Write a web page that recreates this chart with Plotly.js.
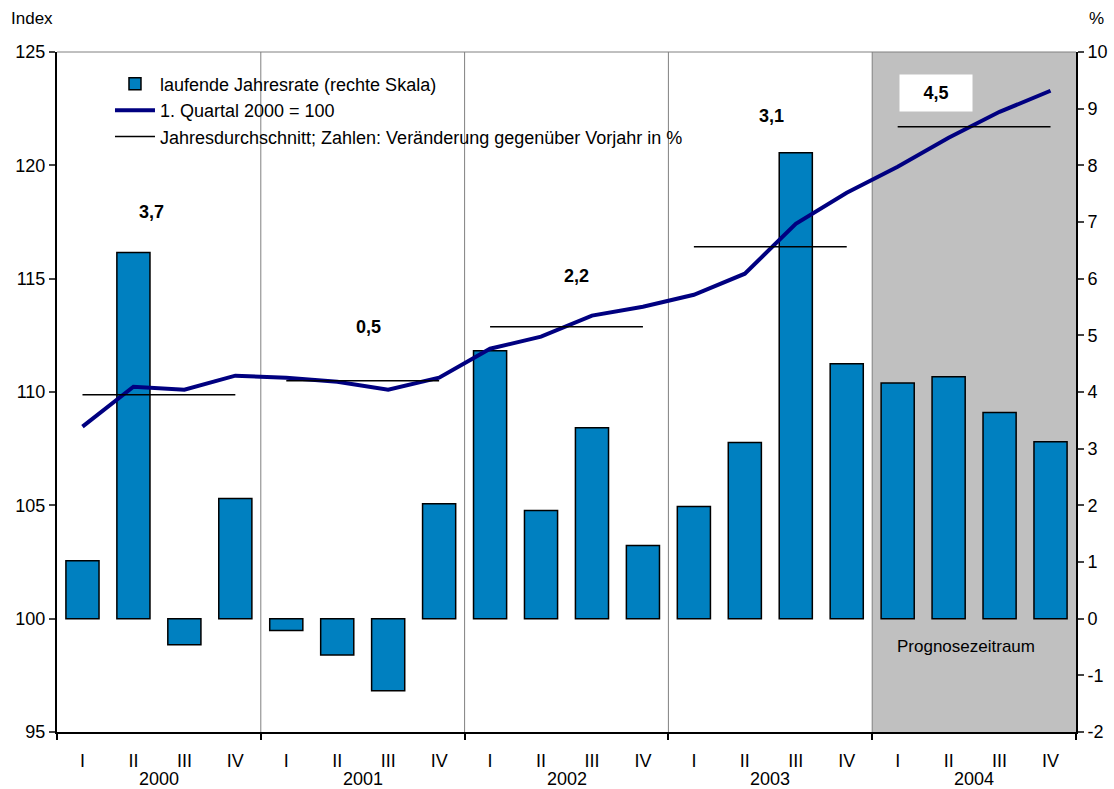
<!DOCTYPE html>
<html>
<head>
<meta charset="utf-8">
<script src="https://cdn.plot.ly/plotly-3.0.1.min.js"></script>
<style>html,body{margin:0;padding:0;background:#fff;}#chart{width:1114px;height:789px;}</style>
</head>
<body>
<div id="chart"></div>
<script>
const quarters = ['I', 'II', 'III', 'IV'];
const years = ['2000', '2001', '2002', '2003', '2004'];
const rate = [1.02, 6.46, -0.46, 2.12, -0.21, -0.64, -1.27, 2.03, 4.73, 1.91, 3.37, 1.29, 1.98, 3.11, 8.22, 4.50, 4.16, 4.27, 3.64, 3.12];
const indexValues = [108.47, 110.23, 110.10, 110.72, 110.63, 110.45, 110.10, 110.63, 111.91, 112.44, 113.37, 113.76, 114.29, 115.22, 117.42, 118.79, 119.94, 121.22, 122.36, 123.29];
const annualAvg = [109.88, 110.50, 112.88, 116.41, 121.70];
const annualChange = ['3,7', '0,5', '2,2', '3,1', '4,5'];
const forecastYear = '2004';
const rightTicks = [-2, -1, 0, 1, 2, 3, 4, 5, 6, 7, 8, 9, 10];

// layout helpers (positions of the labels, not data)
const labelOffset = [-0.155, 0.12, 0.19, 0.03, -0.75];
const labelY = [117.95, 112.88, 115.13, 122.19, 123.2];

const n = rate.length;
const xs = rate.map((_, i) => i);
const tickText = xs.map(i => quarters[i % 4]);

const font = 'Liberation Sans, Arial, sans-serif';
const fs = 17;
const fsL = 18;

const avgX = [], avgY = [];
years.forEach((y, k) => {
  avgX.push(4 * k, 4 * k + 3, null);
  avgY.push(annualAvg[k], annualAvg[k], null);
});

const traces = [
  {
    type: 'bar', x: xs, y: rate, yaxis: 'y', xaxis: 'x',
    name: 'laufende Jahresrate (rechte Skala)',
    marker: {color: '#0080c0', line: {color: '#000000', width: 1.5}},
    legendgroup: 'a', hoverinfo: 'y'
  },
  {
    type: 'scatter', mode: 'lines', x: xs, y: indexValues, yaxis: 'y2', xaxis: 'x',
    name: '1. Quartal 2000 = 100',
    line: {color: '#000080', width: 4},
    legendgroup: 'b'
  },
  {
    type: 'scatter', mode: 'lines', x: avgX, y: avgY, yaxis: 'y2', xaxis: 'x',
    name: 'Jahresdurchschnitt; Zahlen: Veränderung gegenüber Vorjahr in %',
    line: {color: '#000000', width: 1.5}, connectgaps: false,
    legendgroup: 'c'
  }
];

const fk = years.indexOf(forecastYear);
const shapes = [
  {type: 'rect', xref: 'x', yref: 'paper', x0: 4 * fk - 0.5, x1: n - 0.5, y0: 0, y1: 1,
   fillcolor: '#c0c0c0', line: {width: 0}, layer: 'below'},
  {type: 'line', xref: 'paper', yref: 'paper', x0: 0, x1: 1, y0: 1, y1: 1,
   line: {color: '#808080', width: 1}, layer: 'below'}
];
for (let k = 1; k < years.length; k++) {
  shapes.push({type: 'line', xref: 'x', yref: 'paper', x0: 4 * k - 0.5, x1: 4 * k - 0.5, y0: 0, y1: 1,
    line: {color: '#808080', width: 1}, layer: 'below'});
}

const annotations = [];
years.forEach((y, k) => {
  annotations.push({xref: 'x', yref: 'paper', x: 4 * k + 1.5, y: 0, yshift: -47, text: y,
    showarrow: false, font: {family: font, size: fsL, color: '#000'}, yanchor: 'middle'});
  const isBox = y === forecastYear;
  annotations.push({xref: 'x', yref: 'y2', x: 4 * k + 1.5 + labelOffset[k], y: labelY[k],
    text: '<b>' + annualChange[k] + '</b>', showarrow: false,
    font: {family: font, size: fsL, color: '#000'},
    bgcolor: isBox ? '#ffffff' : 'rgba(0,0,0,0)',
    borderpad: isBox ? 8 : 0, width: isBox ? 56 : null});
});
annotations.push({xref: 'x', yref: 'y', x: 4 * fk + 1.34, y: -0.49, text: 'Prognosezeitraum',
  showarrow: false, font: {family: font, size: fs, color: '#000'}});
annotations.push({xref: 'paper', yref: 'paper', x: -0.0245, xanchor: 'center', y: 1.0, yanchor: 'middle', yshift: 34, text: 'Index',
  showarrow: false, font: {family: font, size: fs, color: '#000'}});
annotations.push({xref: 'paper', yref: 'paper', x: 1.0206, xanchor: 'center', y: 1.0, yanchor: 'middle', yshift: 34, text: '%',
  showarrow: false, font: {family: font, size: fs, color: '#000'}});

const layout = {
  width: 1114, height: 789,
  margin: {l: 57, r: 38, t: 52, b: 57},
  paper_bgcolor: '#ffffff', plot_bgcolor: 'rgba(0,0,0,0)',
  font: {family: font, size: fs, color: '#000'},
  bargap: 0.35,
  showlegend: true,
  legend: {x: 0.052, y: 0.98, xanchor: 'left', yanchor: 'top', bgcolor: 'rgba(0,0,0,0)',
    font: {family: font, size: fsL, color: '#000'}, traceorder: 'grouped', tracegroupgap: 0,
    itemwidth: 40},
  xaxis: {
    range: [-0.5, n - 0.5], tickvals: xs, ticktext: tickText, ticks: '', showgrid: false,
    zeroline: false, showline: true, linecolor: '#000', linewidth: 2,
    tickfont: {family: font, size: fsL, color: '#000'}, ticklabelstandoff: 11,
    minor: {tick0: -0.5, dtick: 4, ticks: 'outside', ticklen: 6, tickwidth: 2, tickcolor: '#000', showgrid: false}
  },
  yaxis: {
    side: 'right', range: [-2, 10], tickvals: rightTicks, ticktext: rightTicks.map(v => String(v)),
    showgrid: false, zeroline: false,
    showline: true, linecolor: '#000', linewidth: 2, ticks: 'outside', ticklen: 6, tickwidth: 2,
    tickfont: {family: font, size: fsL, color: '#000'}
  },
  yaxis2: {
    overlaying: 'y', side: 'left', range: [95, 125], dtick: 5, showgrid: false, zeroline: false,
    showline: true, linecolor: '#000', linewidth: 2, ticks: 'outside', ticklen: 6, tickwidth: 2,
    tickfont: {family: font, size: fsL, color: '#000'}
  },
  shapes: shapes,
  annotations: annotations
};

Plotly.newPlot('chart', traces, layout, {displayModeBar: false, staticPlot: true});
</script>
</body>
</html>
